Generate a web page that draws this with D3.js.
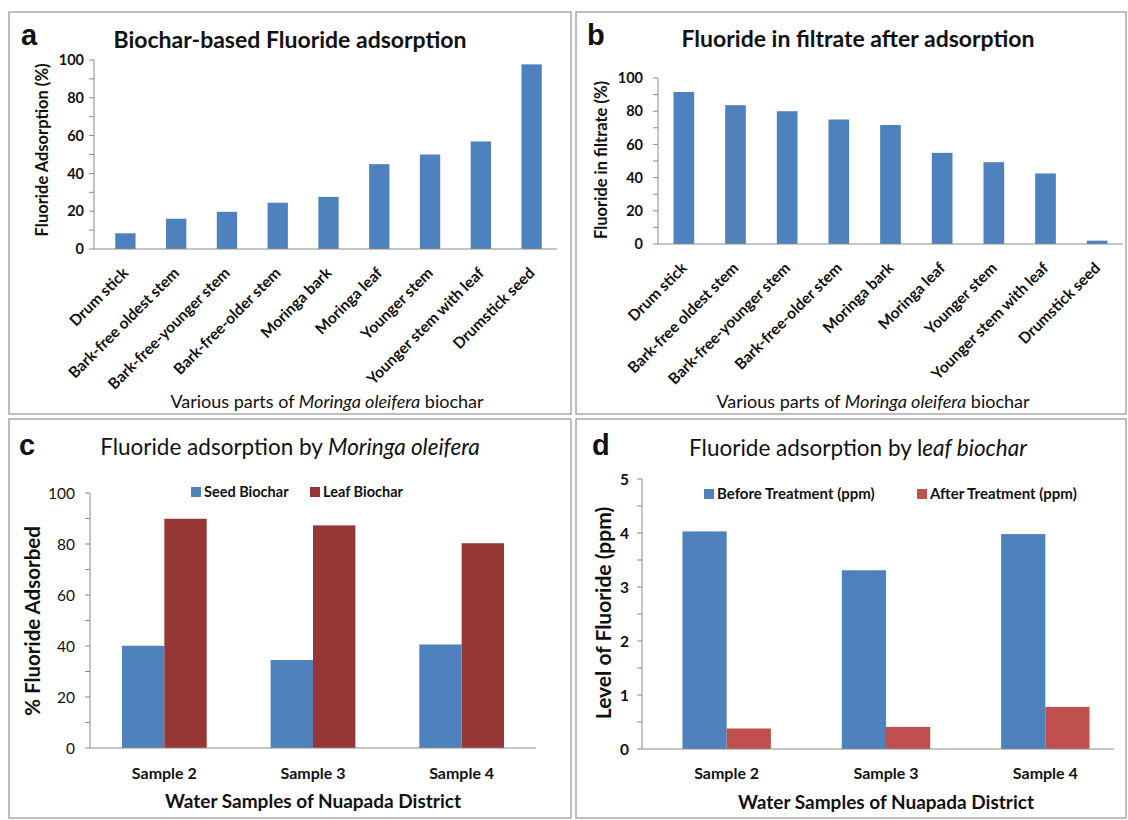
<!DOCTYPE html>
<html>
<head>
<meta charset="utf-8">
<script src="https://cdn.jsdelivr.net/npm/d3@7"></script>
<style>
  html, body { margin: 0; padding: 0; background: #fff; }
  svg { display: block; font-family: Lato, "Open Sans", sans-serif; }
</style>
</head>
<body>
<svg id="chart" width="1128" height="820"></svg>
<script>
// Data
const partNames = ["Drum stick", "Bark-free oldest stem", "Bark-free-younger stem", "Bark-free-older stem",
  "Moringa bark", "Moringa leaf", "Younger stem", "Younger stem with leaf", "Drumstick seed"];
const adsorptionPct = [8.3, 16.0, 19.7, 24.5, 27.6, 44.9, 50.0, 56.9, 97.7];
const filtratePct = [91.6, 83.6, 80.0, 75.0, 71.7, 54.9, 49.3, 42.5, 2.0];

const samples = ["Sample 2", "Sample 3", "Sample 4"];
const seedBiochar = [40.1, 34.5, 40.6];
const leafBiochar = [89.9, 87.3, 80.3];
const beforeTreatment = [4.03, 3.31, 3.98];
const afterTreatment = [0.38, 0.41, 0.78];

const pctTicks = [0, 20, 40, 60, 80, 100];
const ppmTicks = [0, 1, 2, 3, 4, 5];

const BLUE = "#4f81bd";
const DARKRED = "#953735";
const RED = "#c0504d";
const AXIS = "#8a8a8a";

const svg = d3.select("#chart");

// panel frames
const frames = [
  { x: 9, y: 12, w: 562, h: 402 },
  { x: 576, y: 12, w: 550, h: 402 },
  { x: 9, y: 419, w: 562, h: 399 },
  { x: 576, y: 419, w: 550, h: 399 }
];
svg.selectAll("rect.frame").data(frames).join("rect")
  .attr("class", "frame")
  .attr("x", d => d.x).attr("y", d => d.y)
  .attr("width", d => d.w).attr("height", d => d.h)
  .attr("fill", "none").attr("stroke", "#a8a8a8").attr("stroke-width", 1.5);

// y axis with minor ticks, Excel style
function yAxis(g, y, x0, ticks, step, labelOpts) {
  const max = ticks[ticks.length - 1];
  const minor = d3.range(0, max + step / 2, step);
  g.append("line").attr("x1", x0).attr("x2", x0)
    .attr("y1", y(0)).attr("y2", y(max)).attr("stroke", AXIS);
  g.selectAll("line.mt").data(minor).join("line").attr("class", "mt")
    .attr("x1", x0 - 5).attr("x2", x0)
    .attr("y1", d => y(d)).attr("y2", d => y(d)).attr("stroke", AXIS);
  g.selectAll("text.yt").data(ticks).join("text").attr("class", "yt")
    .attr("x", x0 - labelOpts.gap).attr("y", d => y(d)).attr("dy", "0.36em")
    .attr("text-anchor", "end")
    .style("font-size", labelOpts.size + "px")
    .style("font-weight", labelOpts.weight)
    .attr("fill", "#111")
    .text(d => d);
}

function panelText(g, o) {
  const t = g.append("text").attr("x", o.x).attr("y", o.y)
    .attr("text-anchor", o.anchor || "middle")
    .style("font-size", o.size + "px").style("font-weight", o.weight || 400)
    .attr("fill", "#111");
  if (o.rotate) t.attr("transform", `rotate(-90,${o.x},${o.y})`);
  o.parts.forEach(p => {
    t.append("tspan").style("font-style", p.italic ? "italic" : "normal").text(p.t);
  });
  return t;
}

function letter(g, x, y, s) {
  g.append("text").attr("x", x).attr("y", y).text(s)
    .style("font-family", "'Liberation Sans', Arial, sans-serif")
    .style("font-size", "29px").style("font-weight", 700).attr("fill", "#111");
}

// single-series panel (a, b)
function singlePanel(cfg) {
  const g = svg.append("g");
  const x = d3.scaleBand().domain(partNames).range(cfg.xr).paddingInner(0.6).paddingOuter(0.3);
  const y = d3.scaleLinear().domain([0, 100]).range(cfg.yr);

  g.selectAll("rect.bar").data(cfg.values).join("rect").attr("class", "bar")
    .attr("x", (d, i) => x(partNames[i]))
    .attr("width", x.bandwidth())
    .attr("y", d => y(d))
    .attr("height", d => y(0) - y(d))
    .attr("fill", BLUE);

  g.append("line").attr("x1", cfg.axisX).attr("x2", cfg.axisEnd)
    .attr("y1", y(0)).attr("y2", y(0)).attr("stroke", AXIS);
  yAxis(g, y, cfg.axisX, pctTicks, 10, { gap: cfg.tickGap, size: 14.5, weight: 700 });

  g.selectAll("text.xt").data(partNames).join("text").attr("class", "xt")
    .attr("transform", d => `translate(${x(d) + x.bandwidth() / 2 + 4},${y(0) + 25}) rotate(-45)`)
    .attr("text-anchor", "end")
    .style("font-size", "15.5px").style("font-weight", 700).attr("fill", "#111")
    .text(d => d);

  panelText(g, { x: cfg.titleX, y: cfg.titleY, size: 23, weight: 700, parts: [{ t: cfg.title }] });
  panelText(g, { x: cfg.xtX, y: 408, size: 18, weight: 400,
    parts: [{ t: "Various parts of " }, { t: "Moringa oleifera", italic: true }, { t: " biochar" }] });
  panelText(g, { x: cfg.ylX, y: cfg.ylY, size: 16.5, weight: 700, rotate: true, parts: [{ t: cfg.ylabel }] });
  letter(g, cfg.letterX, 45, cfg.letter);
}

singlePanel({
  values: adsorptionPct, xr: [100, 557], yr: [249, 60], axisX: 94, axisEnd: 557, tickGap: 10,
  title: "Biochar-based Fluoride adsorption", titleX: 290, titleY: 48,
  xtX: 327, ylX: 48, ylY: 150, ylabel: "Fluoride Adsorption (%)", letter: "a", letterX: 21
});
singlePanel({
  values: filtratePct, xr: [658, 1123], yr: [244, 78], axisX: 658, axisEnd: 1123, tickGap: 15,
  title: "Fluoride in filtrate after adsorption", titleX: 858, titleY: 47,
  xtX: 873, ylX: 607, ylY: 160, ylabel: "Fluoride in filtrate (%)", letter: "b", letterX: 587
});

// grouped panel (c, d)
function groupPanel(cfg) {
  const g = svg.append("g");
  const x0 = d3.scaleBand().domain(samples).range(cfg.xr).paddingInner(cfg.pad).paddingOuter(cfg.pad / 2);
  const x1 = d3.scaleBand().domain([0, 1]).range([0, x0.bandwidth()]);
  const y = d3.scaleLinear().domain([0, cfg.ticks[cfg.ticks.length - 1]]).range(cfg.yr);

  cfg.series.forEach((s, si) => {
    g.selectAll(null).data(s.values).join("rect")
      .attr("x", (d, i) => x0(samples[i]) + x1(si))
      .attr("width", x1.bandwidth())
      .attr("y", d => y(d))
      .attr("height", d => y(0) - y(d))
      .attr("fill", s.color);
  });

  g.append("line").attr("x1", cfg.axisX).attr("x2", cfg.axisEnd)
    .attr("y1", y(0)).attr("y2", y(0)).attr("stroke", AXIS);
  yAxis(g, y, cfg.axisX, cfg.ticks, cfg.minor, { gap: cfg.tickGap, size: 15.5, weight: cfg.tickWeight });

  g.selectAll("text.xt").data(samples).join("text").attr("class", "xt")
    .attr("x", d => x0(d) + x0.bandwidth() / 2).attr("y", cfg.xtY)
    .attr("text-anchor", "middle")
    .style("font-size", "16px").style("font-weight", 700).attr("fill", "#111")
    .text(d => d);

  // legend
  cfg.series.forEach((s, si) => {
    g.append("rect").attr("x", cfg.legX[si]).attr("y", cfg.legY - 10)
      .attr("width", 10).attr("height", 10).attr("fill", s.color);
    g.append("text").attr("x", cfg.legX[si] + 13).attr("y", cfg.legY)
      .style("font-size", cfg.legSize + "px").style("font-weight", 700).attr("fill", "#111")
      .text(s.name);
  });

  panelText(g, { x: cfg.titleX, y: cfg.titleY, size: 22.5, weight: 400, parts: cfg.title });
  panelText(g, { x: cfg.xtitleX, y: cfg.xtitleY, size: 19, weight: 700,
    parts: [{ t: "Water Samples of Nuapada District" }] });
  panelText(g, { x: cfg.ylX, y: cfg.ylY, size: cfg.ylSize, weight: 700, rotate: true, parts: [{ t: cfg.ylabel }] });
  letter(g, cfg.letterX, 455, cfg.letter);
}

groupPanel({
  series: [{ name: "Seed Biochar", values: seedBiochar, color: BLUE },
           { name: "Leaf Biochar", values: leafBiochar, color: DARKRED }],
  ticks: pctTicks, minor: 10, tickWeight: 400, tickGap: 15,
  xr: [90, 536], pad: 0.43, yr: [748, 493], axisX: 90, axisEnd: 536,
  xtY: 779, legX: [191, 310], legY: 497, legSize: 14.5,
  title: [{ t: "Fluoride adsorption by " }, { t: "Moringa oleifera", italic: true }],
  titleX: 290, titleY: 455, xtitleX: 313, xtitleY: 808,
  ylX: 40, ylY: 621, ylSize: 20.5, ylabel: "% Fluoride Adsorbed", letter: "c", letterX: 19
});

groupPanel({
  series: [{ name: "Before Treatment (ppm)", values: beforeTreatment, color: BLUE },
           { name: "After Treatment (ppm)", values: afterTreatment, color: RED }],
  ticks: ppmTicks, minor: 0.5, tickWeight: 700, tickGap: 13,
  xr: [647, 1125], pad: 0.445, yr: [749, 479], axisX: 642, axisEnd: 1114,
  xtY: 779, legX: [704, 917], legY: 499, legSize: 15,
  title: [{ t: "Fluoride adsorption by l" }, { t: "eaf biochar", italic: true }],
  titleX: 858, titleY: 456, xtitleX: 886, xtitleY: 809,
  ylX: 611, ylY: 613, ylSize: 21, ylabel: "Level of Fluoride (ppm)", letter: "d", letterX: 592
});
</script>
</body>
</html>
